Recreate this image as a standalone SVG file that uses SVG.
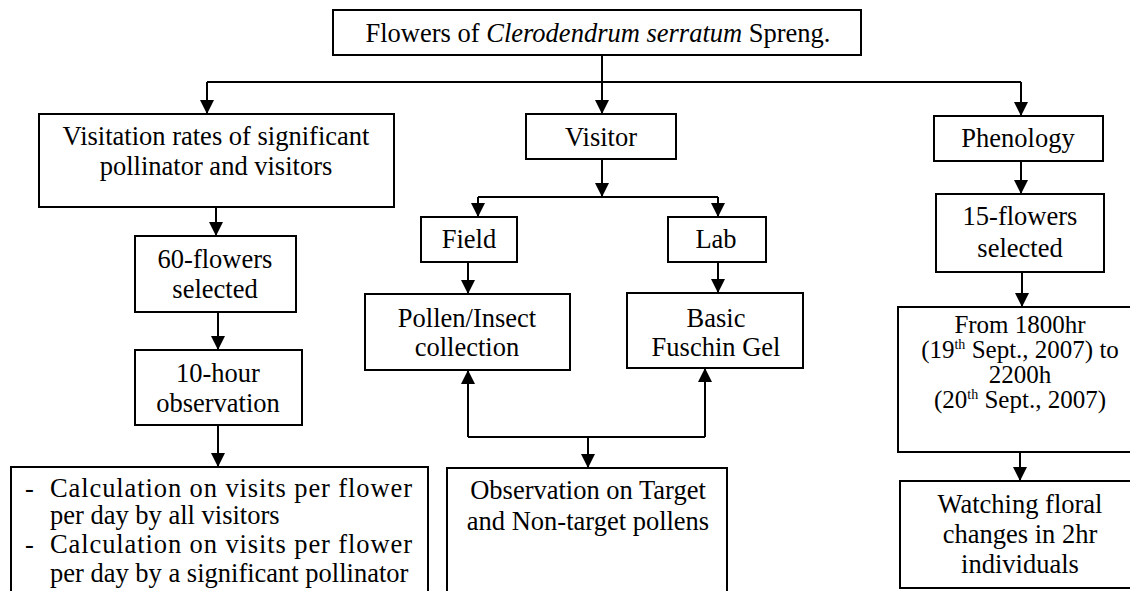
<svg xmlns="http://www.w3.org/2000/svg" width="1130" height="591" viewBox="0 0 1130 591">
<style>
.box{fill:#fff;stroke:#000;stroke-width:2}
text{font-family:'Liberation Serif','Times New Roman',Tinos,'DejaVu Serif',serif;font-size:26.5px;fill:#000}
.t{text-anchor:middle}
.c{fill:none;stroke:#000;stroke-width:2}
.sm{font-size:25px}
.sup{font-size:14px}
</style>
<defs>
<marker id="ah" viewBox="0 0 10 10" refX="10" refY="5" markerWidth="15" markerHeight="14" markerUnits="userSpaceOnUse" orient="auto">
<path d="M0,0 L10,5 L0,10 z" fill="#000"/>
</marker>
</defs>
<rect width="1130" height="591" fill="#fff"/>
<g id="connectors">
<path class="c" d="M602,55 V82 M207,82 H1021"/>
<path class="c" d="M207,82 V114" marker-end="url(#ah)"/>
<path class="c" d="M602,82 V114" marker-end="url(#ah)"/>
<path class="c" d="M1021,82 V116" marker-end="url(#ah)"/>
<path class="c" d="M216,207 V236" marker-end="url(#ah)"/>
<path class="c" d="M218,312 V350" marker-end="url(#ah)"/>
<path class="c" d="M218,425 V467" marker-end="url(#ah)"/>
<path class="c" d="M602,159 V197" marker-end="url(#ah)"/>
<path class="c" d="M478,197 H718"/>
<path class="c" d="M478,197 V217" marker-end="url(#ah)"/>
<path class="c" d="M718,197 V217" marker-end="url(#ah)"/>
<path class="c" d="M468,262 V294" marker-end="url(#ah)"/>
<path class="c" d="M718,262 V293" marker-end="url(#ah)"/>
<path class="c" d="M468,437 H705"/>
<path class="c" d="M468,437 V370" marker-end="url(#ah)"/>
<path class="c" d="M705,437 V368" marker-end="url(#ah)"/>
<path class="c" d="M588,437 V468" marker-end="url(#ah)"/>
<path class="c" d="M1021,161 V194" marker-end="url(#ah)"/>
<path class="c" d="M1022,272 V307" marker-end="url(#ah)"/>
<path class="c" d="M1020,452 V481" marker-end="url(#ah)"/>
</g>
<g id="n-top">
<rect class="box" x="333" y="10" width="528" height="45"/>
<text class="t" x="598" y="42">Flowers of <tspan font-style="italic">Clerodendrum serratum</tspan> Spreng.</text>
</g>
<g id="n-visitation">
<rect class="box" x="39" y="114" width="355" height="93"/>
<text class="t" x="216" y="145">Visitation rates of significant</text>
<text class="t" x="216" y="175">pollinator and visitors</text>
</g>
<g id="n-visitor">
<rect class="box" x="526" y="114" width="150" height="45"/>
<text class="t" x="601" y="146">Visitor</text>
</g>
<g id="n-phenology">
<rect class="box" x="934" y="116" width="169" height="45"/>
<text class="t" x="1018" y="147">Phenology</text>
</g>
<g id="n-60flowers">
<rect class="box" x="135" y="236" width="161" height="76"/>
<text class="t" x="215" y="268">60-flowers</text>
<text class="t" x="215" y="298">selected</text>
</g>
<g id="n-10hour">
<rect class="box" x="135" y="350" width="167" height="75"/>
<text class="t" x="218" y="382">10-hour</text>
<text class="t" x="218" y="412">observation</text>
</g>
<g id="n-calc">
<rect class="box" x="11" y="467" width="417" height="140"/>
<text x="25" y="497">-</text>
<text x="50" y="497" textLength="362" lengthAdjust="spacing">Calculation on visits per  flower</text>
<text x="50" y="524">per day by all visitors</text>
<text x="25" y="553">-</text>
<text x="50" y="553" textLength="362" lengthAdjust="spacing">Calculation on visits per flower</text>
<text x="50" y="582">per day by a significant pollinator</text>
</g>
<g id="n-field">
<rect class="box" x="421" y="217" width="96" height="45"/>
<text class="t" x="469" y="248">Field</text>
</g>
<g id="n-lab">
<rect class="box" x="668" y="217" width="98" height="45"/>
<text class="t" x="716" y="248">Lab</text>
</g>
<g id="n-pollen">
<rect class="box" x="365" y="294" width="205" height="76"/>
<text class="t" x="467" y="327">Pollen/Insect</text>
<text class="t" x="467" y="356">collection</text>
</g>
<g id="n-basic">
<rect class="box" x="627" y="293" width="176" height="75"/>
<text class="t" x="716" y="327">Basic</text>
<text class="t" x="716" y="356">Fuschin Gel</text>
</g>
<g id="n-observation">
<rect class="box" x="447" y="468" width="280" height="140"/>
<text class="t" x="588" y="499">Observation on Target</text>
<text class="t" x="588" y="530">and Non-target pollens</text>
</g>
<g id="n-15flowers">
<rect class="box" x="936" y="194" width="168" height="78"/>
<text class="t" x="1020" y="225">15-flowers</text>
<text class="t" x="1020" y="257">selected</text>
</g>
<g id="n-from">
<rect class="box" x="898" y="307" width="245" height="145"/>
<text class="t sm" x="1020" y="333">From 1800hr</text>
<text class="t sm" x="1020" y="358">(19<tspan class="sup" dy="-9">th</tspan><tspan dy="9"> Sept., 2007) to</tspan></text>
<text class="t sm" x="1020" y="383">2200h</text>
<text class="t sm" x="1020" y="408">(20<tspan class="sup" dy="-9">th</tspan><tspan dy="9"> Sept., 2007)</tspan></text>
</g>
<g id="n-watching">
<rect class="box" x="900" y="481" width="240" height="107"/>
<text class="t" x="1020" y="513">Watching floral</text>
<text class="t" x="1020" y="543">changes in 2hr</text>
<text class="t" x="1020" y="573">individuals</text>
</g>
</svg>
